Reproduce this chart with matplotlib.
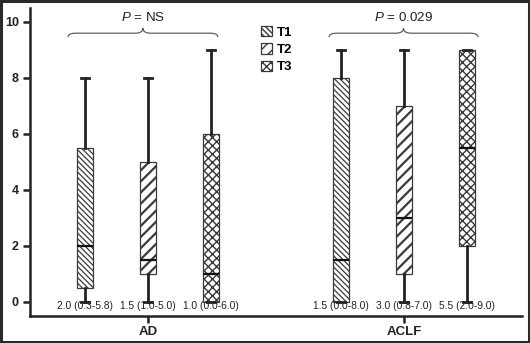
import numpy as np
import matplotlib
matplotlib.use("Agg")
import matplotlib.pyplot as plt
from matplotlib.path import Path
from matplotlib.patches import PathPatch, Rectangle

plt.rcParams['font.family'] = ['Liberation Sans', 'DejaVu Sans']
plt.rcParams['mathtext.fontset'] = 'custom'
plt.rcParams['mathtext.it'] = 'Liberation Sans:italic'
plt.rcParams['mathtext.rm'] = 'Liberation Sans'
plt.rcParams['hatch.linewidth'] = 1.0

# data
groups = ["AD", "ACLF"]
series = ["T1", "T2", "T3"]
# [whisker low, q1, median, q3, whisker high] per group, per series
ad_stats = [[0, 0.5, 2.0, 5.5, 8], [0, 1.0, 1.5, 5.0, 8], [0, 0.0, 1.0, 6.0, 9]]
aclf_stats = [[0, 0.0, 1.5, 8.0, 9], [0, 1.0, 3.0, 7.0, 9], [0, 2.0, 5.5, 9.0, 9]]
ad_labels = ["2.0 (0.3-5.8)", "1.5 (1.0-5.0)", "1.0 (0.0-6.0)"]
aclf_labels = ["1.5 (0.0-8.0)", "3.0 (0.8-7.0)", "5.5 (2.0-9.0)"]
p_texts = ["$P$ = NS", "$P$ = 0.029"]
yticks = [0, 2, 4, 6, 8, 10]

hatches = ["\\\\\\\\\\\\", "///", "xxxx"]
hatch_lw = [0.9, 1.6, 1.0]
offset = 0.245
box_w = 0.0625

fig = plt.figure(figsize=(5.3, 3.43), dpi=100)
ax = fig.add_axes([30 / 530, 27 / 343, 492 / 530, 308 / 343])

all_stats = [ad_stats, aclf_stats]
all_labels = [ad_labels, aclf_labels]
legend_boxes = []
for gi, (stats, labels) in enumerate(zip(all_stats, all_labels)):
    for si, s in enumerate(stats):
        pos = gi + (si - 1) * offset
        st = dict(whislo=s[0], q1=s[1], med=s[2], q3=s[3], whishi=s[4], fliers=[])
        res = ax.bxp([st], positions=[pos], widths=box_w, patch_artist=True,
                     showfliers=False,
                     boxprops=dict(facecolor='white', edgecolor='#3a3a3a', linewidth=0.9,
                                   hatch=hatches[si]),
                     whiskerprops=dict(color='#222222', linewidth=2.0),
                     capprops=dict(color='#222222', linewidth=2.0),
                     medianprops=dict(color='#111111', linewidth=1.6))
        box = res['boxes'][0]
        try:
            box.set_hatch_linewidth(hatch_lw[si])
        except AttributeError:
            pass
        if gi == 0:
            legend_boxes.append(box)
        ax.text(pos, -0.14, labels[si], ha='center', va='center', fontsize=7.4, color='#222222')

# braces with p values (spans relative to the group centre)
brace_spans = [(-0.3125, 0.273), (-0.293, 0.289)]
ye, yf, yt, r = 9.46, 9.6, 9.78, 0.03
for gi, ((x0, x1), ptxt) in enumerate(zip(brace_spans, p_texts)):
    x0, x1 = gi + x0, gi + x1
    xm = (x0 + x1) / 2
    verts = [(x0, ye), (x0, yf), (x0 + r, yf), (xm - r, yf), (xm, yf), (xm, yt),
             (xm, yf), (xm + r, yf), (x1 - r, yf), (x1, yf), (x1, ye)]
    codes = [Path.MOVETO, Path.CURVE3, Path.CURVE3, Path.LINETO, Path.CURVE3, Path.CURVE3,
             Path.CURVE3, Path.CURVE3, Path.LINETO, Path.CURVE3, Path.CURVE3]
    ax.add_patch(PathPatch(Path(verts, codes), facecolor='none', edgecolor='#606060',
                           linewidth=0.9, clip_on=False))
    ax.text(xm, 10.15, ptxt, ha='center', va='center', fontsize=9.6, color='#222222')

ax.set_xlim(-0.461, 1.461)
ax.set_ylim(-0.5, 10.5)
ax.set_xticks([0, 1])
ax.set_xticklabels(groups, fontweight='bold', fontsize=9.5)
ax.set_yticks(yticks)
ax.set_yticklabels([str(v) for v in yticks], fontweight='bold', fontsize=9)
ax.tick_params(axis='both', direction='out', length=5, width=1.8, color='#222222',
               labelcolor='#222222')
ax.tick_params(axis='y', pad=3)
ax.tick_params(axis='x', pad=2)
for side in ['top', 'right']:
    ax.spines[side].set_visible(False)
for side in ['left', 'bottom']:
    ax.spines[side].set_linewidth(1.8)
    ax.spines[side].set_color('#222222')

ax.legend(legend_boxes, series, loc='upper left', bbox_to_anchor=(252 / 530, 1 - 17 / 343),
          bbox_transform=fig.transFigure, frameon=False, handlelength=0.8, handleheight=0.8,
          handletextpad=0.35, labelspacing=0.35, borderpad=0.2,
          prop={'weight': 'bold', 'size': 9.5})

fig.patches.append(Rectangle((0.002, 0.003), 0.996, 0.994, transform=fig.transFigure,
                             fill=False, edgecolor='#2a2a2a', linewidth=2.2))

fig.savefig("out.png", dpi=100)
